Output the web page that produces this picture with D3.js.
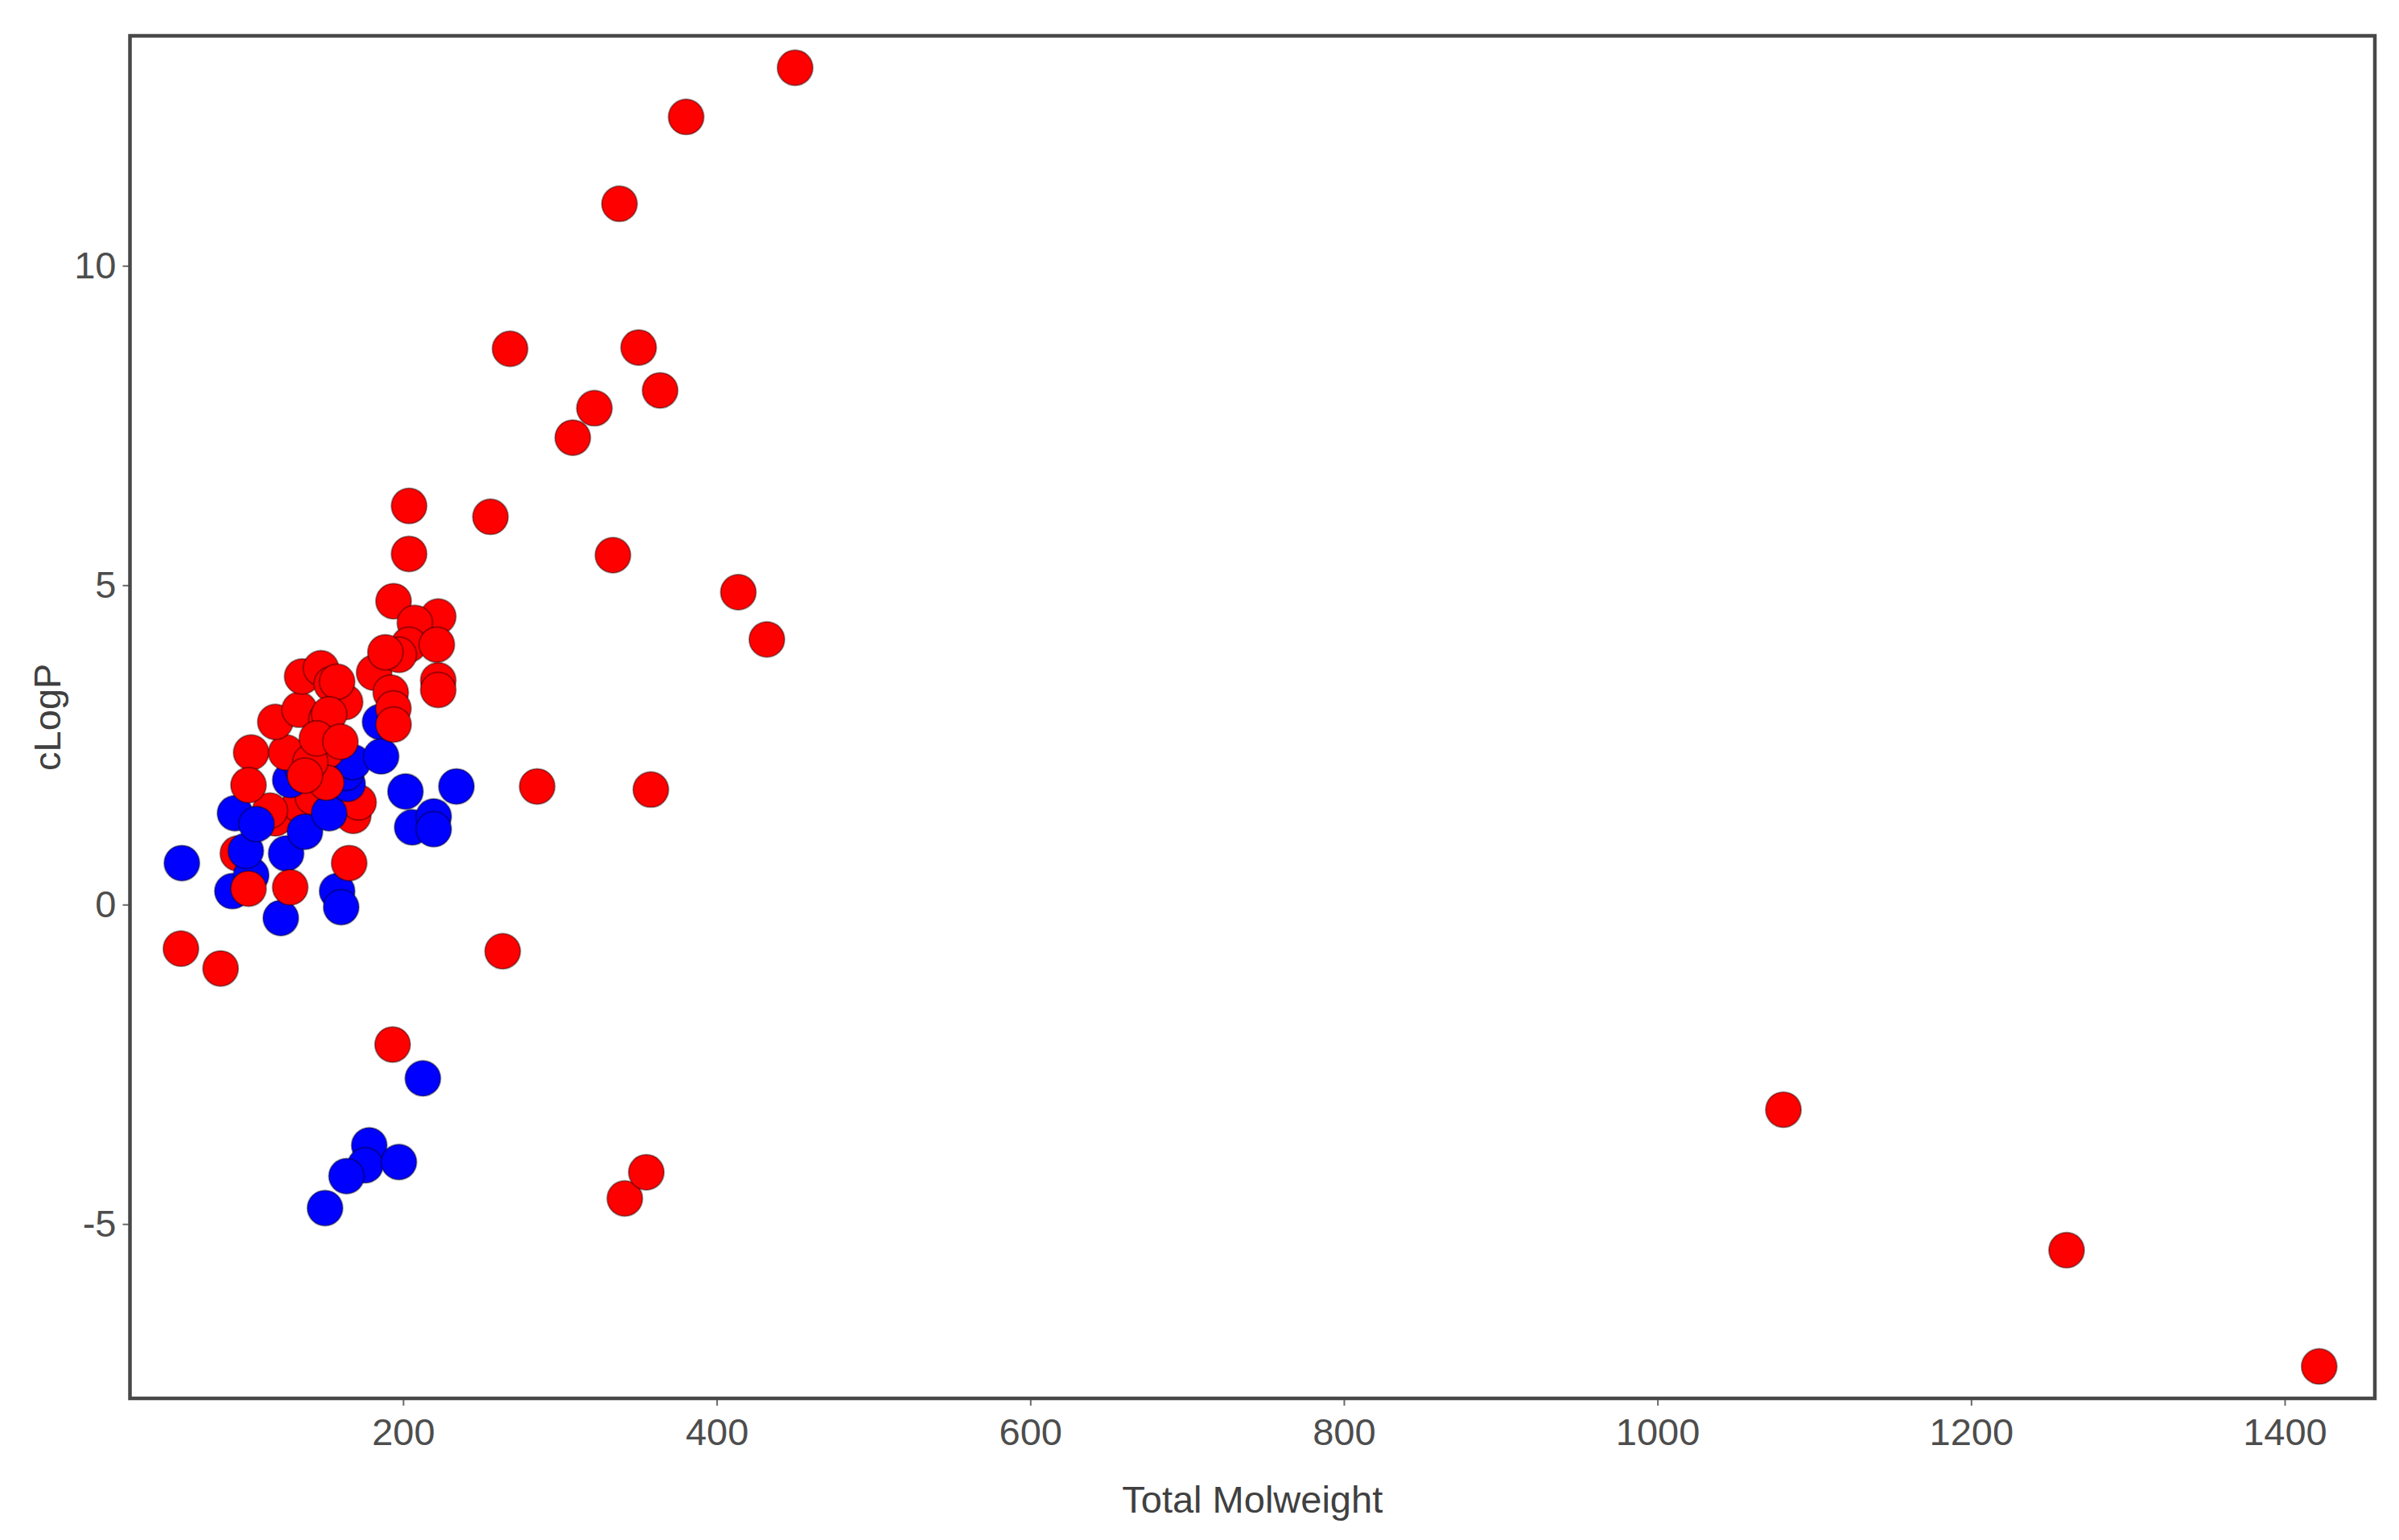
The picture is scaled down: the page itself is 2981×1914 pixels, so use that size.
<!DOCTYPE html>
<html>
<head>
<meta charset="utf-8">
<script src="https://cdn.jsdelivr.net/npm/d3@7"></script>
<style>
  html, body { margin: 0; padding: 0; background: #fff; }
  svg { display: block; }
</style>
</head>
<body>
<svg id="chart"></svg>
<script>
// Point data, kept in drawing order (later points sit on top)
const molweight = [
  // red points that sit under the blue ones
  94.6, 118.5, 133.9, 168.2, 171.6, 115.1, 142.5,
  // blue points
  58.9, 91.1, 103.1, 99.7, 125.4, 122.0, 92.8, 106.5, 137.4, 152.8, 157.9, 160.5,
  164.6, 163.5, 168.0, 128.0, 135.6, 185.3, 186.0, 201.5, 234.0, 205.8, 219.5, 219.5,
  212.6, 178.4, 175.9, 197.3, 163.9, 150.2,
  // red points on top
  101.4, 128.0, 165.6, 103.1, 101.4, 125.4, 118.5, 133.9, 135.6, 147.6, 154.4, 163.0,
  151.0, 151.0, 151.0, 157.9, 152.8, 140.8, 137.4, 145.0, 160.0,
  181.5, 193.9, 222.4, 207.5, 203.7, 221.5, 197.3, 188.7, 222.4, 222.4, 192.1, 193.8, 193.9,
  450.0, 380.5, 338.0, 268.2, 350.2, 363.9, 322.0, 308.2, 203.8, 255.7, 203.8, 333.8,
  413.8, 432.0, 285.5, 358.0, 263.5, 58.3, 83.6, 193.3, 1080.3, 1260.9, 1422.0, 341.4, 355.1
];
const clogp = [
  0.80, 1.35, 1.56, 1.39, 1.60, 1.47, 1.68,
  0.65, 0.21, 0.46, 0.84, 0.80, -0.21, 1.43, 1.26, 1.14, 1.43, 0.21, -0.04,
  1.89, 2.06, 2.23, 1.95, 2.14, 2.86, 2.32, 1.77, 1.85, 1.21, 1.38, 1.18,
  -2.72, -3.77, -4.08, -4.03, -4.25, -4.75,
  0.25, 0.27, 0.65, 2.38, 1.87, 2.38, 2.86, 3.05, 3.57, 3.70, 3.45, 3.17,
  2.90, 2.40, 1.91, 3.49, 2.98, 2.23, 2.02, 2.60, 2.55,
  3.63, 4.75, 4.51, 4.41, 4.07, 4.07, 3.91, 3.95, 3.51, 3.36, 3.32, 3.07, 2.82,
  13.10, 12.33, 10.97, 8.70, 8.72, 8.05, 7.77, 7.31, 6.24, 6.07, 5.49, 5.47,
  4.89, 4.15, 1.85, 1.80, -0.73, -0.69, -1.00, -2.19, -3.21, -5.41, -7.23, -4.60, -4.19
];
const group = [
  "r", "r", "r", "r", "r", "r", "r",
  "b", "b", "b", "b", "b", "b", "b", "b", "b", "b", "b", "b",
  "b", "b", "b", "b", "b", "b", "b", "b", "b", "b", "b", "b",
  "b", "b", "b", "b", "b", "b",
  "r", "r", "r", "r", "r", "r", "r", "r", "r", "r", "r", "r",
  "r", "r", "r", "r", "r", "r", "r", "r", "r",
  "r", "r", "r", "r", "r", "r", "r", "r", "r", "r", "r", "r", "r",
  "r", "r", "r", "r", "r", "r", "r", "r", "r", "r", "r", "r",
  "r", "r", "r", "r", "r", "r", "r", "r", "r", "r", "r", "r", "r"
];
const xTicks = [200, 400, 600, 800, 1000, 1200, 1400];
const yTicks = [-5, 0, 5, 10];

const width = 2981, height = 1914;
const panel = { left: 161.5, right: 2951, top: 44.5, bottom: 1738 };
const font = "'Liberation Sans', Arial, sans-serif";

const svg = d3.select("#chart")
  .attr("width", width)
  .attr("height", height)
  .style("background", "#fff");

const x = d3.scaleLinear().domain([25.8, 1457.5]).range([panel.left, panel.right]);
const y = d3.scaleLinear().domain([-7.73, 13.6]).range([panel.bottom, panel.top]);
const color = d3.scaleOrdinal().domain(["r", "b"]).range(["#ff0000", "#0000ff"]);

const points = molweight.map((mw, i) => ({ mw, lp: clogp[i], g: group[i] }));

// axes
const xAxis = svg.append("g")
  .attr("transform", `translate(0, ${panel.bottom})`)
  .call(d3.axisBottom(x).tickValues(xTicks).tickSize(9).tickPadding(16).tickFormat(d => String(d)));

const yAxis = svg.append("g")
  .attr("transform", `translate(${panel.left}, 0)`)
  .call(d3.axisLeft(y).tickValues(yTicks).tickSize(9).tickPadding(8).tickFormat(d => String(d)));

[xAxis, yAxis].forEach(a => {
  a.select(".domain").remove();
  a.selectAll(".tick line").attr("stroke", "#6a6a6a").attr("stroke-width", 2);
  a.selectAll(".tick text")
    .attr("fill", "#4d4d4d")
    .style("font-family", font)
    .style("font-size", "47px");
});

// points
svg.append("g")
  .selectAll("circle")
  .data(points)
  .join("circle")
  .attr("cx", d => x(d.mw))
  .attr("cy", d => y(d.lp))
  .attr("r", 22)
  .attr("fill", d => color(d.g))
  .attr("stroke", "rgba(0,0,0,0.38)")
  .attr("stroke-width", 2);

// panel border
svg.append("rect")
  .attr("x", panel.left)
  .attr("y", panel.top)
  .attr("width", panel.right - panel.left)
  .attr("height", panel.bottom - panel.top)
  .attr("fill", "none")
  .attr("stroke", "#474747")
  .attr("stroke-width", 4.5);

// axis titles
svg.append("text")
  .attr("x", (panel.left + panel.right) / 2)
  .attr("y", 1880)
  .attr("text-anchor", "middle")
  .attr("fill", "#404040")
  .style("font-family", font)
  .style("font-size", "47px")
  .text("Total Molweight");

svg.append("text")
  .attr("transform", `translate(75, ${(panel.top + panel.bottom) / 2}) rotate(-90)`)
  .attr("text-anchor", "middle")
  .attr("fill", "#404040")
  .style("font-family", font)
  .style("font-size", "47px")
  .text("cLogP");
</script>
</body>
</html>
